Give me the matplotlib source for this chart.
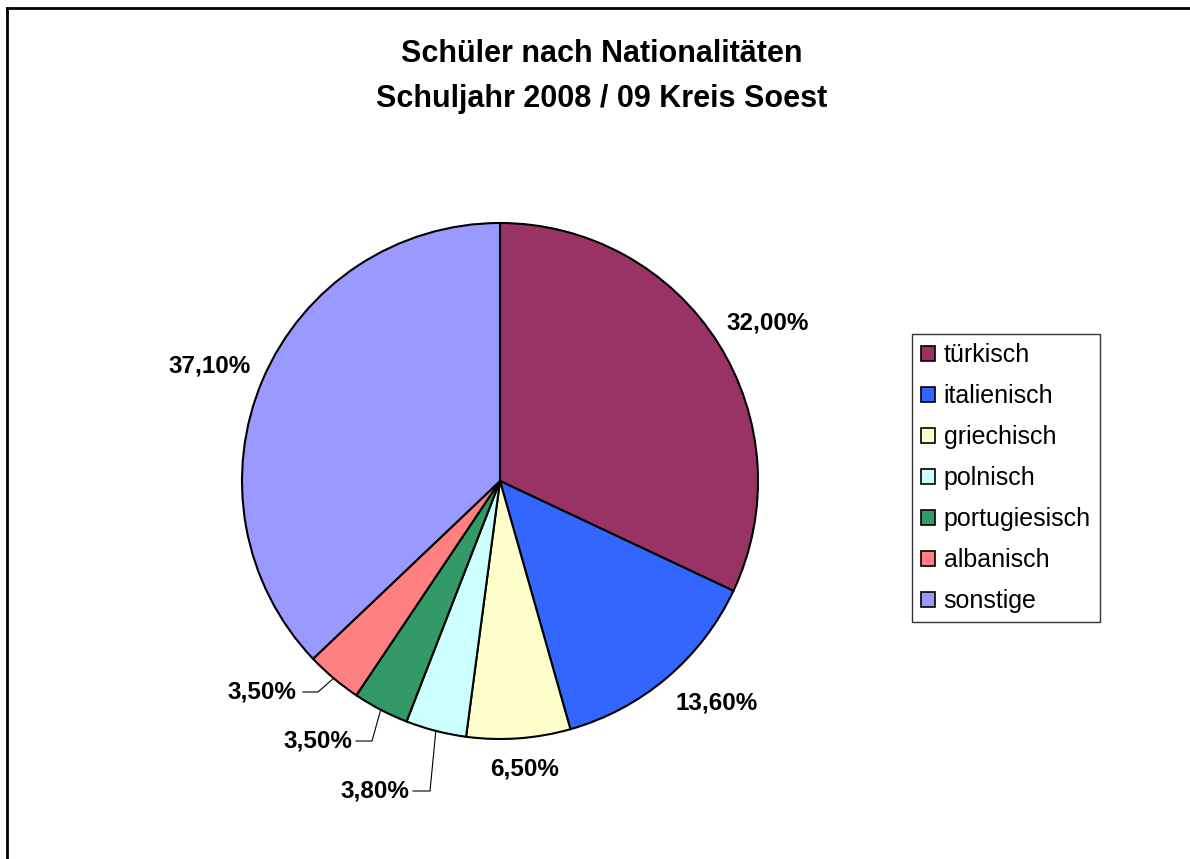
import numpy as np
import matplotlib
matplotlib.use("Agg")
import matplotlib.pyplot as plt
from matplotlib.patches import Patch
from matplotlib.lines import Line2D

plt.rcParams['font.family'] = ['Liberation Sans', 'DejaVu Sans']

# ---- data ----
categories = ["türkisch", "italienisch", "griechisch", "polnisch",
              "portugiesisch", "albanisch", "sonstige"]
values = [32.0, 13.6, 6.5, 3.8, 3.5, 3.5, 37.1]
colors = ["#993366", "#3366FF", "#FFFFCC", "#CCFFFF", "#339966", "#FF8080", "#9999FF"]
title_lines = ["Schüler nach Nationalitäten", "Schuljahr 2008 / 09 Kreis Soest"]

# ---- layout (pixel coordinates, y from top) ----
W, H = 1190, 859
cx, cy, R = 500, 481, 258
label_pos = [(768, 323), (717, 703), (525, 769), (375, 791),
             (318, 741), (262, 692), (210, 366)]
# leader lines: (label right x, elbow x) for the small slices, None otherwise
leaders = [None, None, None, (413, 430), (356, 372), (303, 318), None]

fig = plt.figure(figsize=(W / 100, H / 100), dpi=100)
ax = fig.add_axes([0, 0, 1, 1])
ax.set_xlim(0, W)
ax.set_ylim(0, H)
ax.set_aspect('equal')
ax.axis('off')

wedges, _ = ax.pie(values, colors=colors, startangle=90, counterclock=False,
                   center=(cx, H - cy), radius=R,
                   wedgeprops=dict(edgecolor='black', linewidth=1.5))
ax.set_xlim(0, W)
ax.set_ylim(0, H)

def fmt(v):
    return f"{v:.2f}".replace('.', ',') + "%"

for w, v, (lx, ly), ld in zip(wedges, values, label_pos, leaders):
    ax.text(lx, H - ly, fmt(v), ha='center', va='center',
            fontsize=17.5, fontweight='bold', color='black')
    if ld is not None:
        ang = np.deg2rad((w.theta1 + w.theta2) / 2)
        ex = cx + R * np.cos(ang)
        ey = (H - cy) + R * np.sin(ang)
        ax.plot([ld[0], ld[1], ex], [H - ly, H - ly, ey], color='black', lw=0.8)

# title
fig.text(602 / W, 1 - 54 / H, title_lines[0], ha='center', va='center',
         fontsize=22, fontweight='bold')
fig.text(602 / W, 1 - 99 / H, title_lines[1], ha='center', va='center',
         fontsize=22, fontweight='bold')

# legend
handles = [Patch(facecolor=c, edgecolor='black', linewidth=1.2) for c in colors]
leg = fig.legend(handles, categories, loc='upper left',
                 bbox_to_anchor=(912 / W, 1 - 334 / H),
                 fontsize=18, frameon=True, fancybox=False,
                 edgecolor='black', labelspacing=0.68,
                 handlelength=0.56, handleheight=0.56, handletextpad=0.35,
                 borderpad=0.36, borderaxespad=0)
leg.get_frame().set_linewidth(1.0)

# chart-area border (top and left visible)
fig.add_artist(Line2D([7 / W, 7 / W], [0, 1 - 8 / H], transform=fig.transFigure,
                      color='black', lw=2))
fig.add_artist(Line2D([7 / W, 1], [1 - 8 / H, 1 - 8 / H], transform=fig.transFigure,
                      color='black', lw=2))

fig.savefig("out.png", dpi=100, facecolor='white')
